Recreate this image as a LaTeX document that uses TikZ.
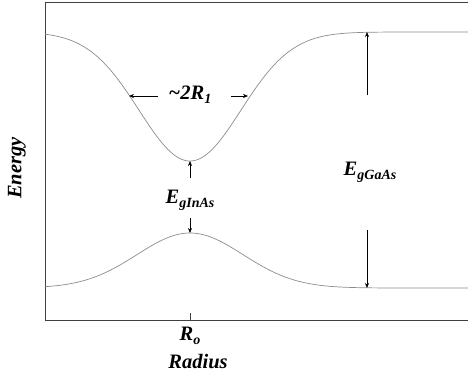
\documentclass[tikz,border=0pt]{standalone}
\usepackage{fontspec}
\setmainfont{Liberation Serif}
\usetikzlibrary{arrows.meta}
\newcommand{\bigt}{\fontsize{20.5}{24}\selectfont\bfseries\itshape}
\newcommand{\subt}[1]{\raisebox{-4pt}{\fontsize{14}{16}\selectfont\bfseries\itshape #1}}
\tikzset{
  curve/.style={draw=black!45, line width=0.7pt},
  frame/.style={draw=black!75, line width=1pt},
  dim/.style={draw=black, line width=0.6pt, -{Stealth[length=5pt,width=4pt]}},
  lab/.style={inner sep=1pt, font=\bigt},
}
\begin{document}
\begin{tikzpicture}[x=1pt,y=-1pt]
\useasboundingbox (0,0) rectangle (468,378);
% frame
\draw[frame] (468,2) -- (45,2) -- (45,320) -- (468,320);
% curves
\draw[curve] plot[domain=45:468,samples=200,smooth] (\x,{32+129*exp(-((\x-190)/72)^2)});
\draw[curve] plot[domain=45:468,samples=200,smooth] (\x,{288-55*exp(-((\x-190)/75)^2)});
% tick
\coordinate (t1) at (190,313);
\coordinate (t2) at (190,320);
\draw[frame, line width=0.6pt] (t1) -- (t2);
% coordinates for arrows
\coordinate (cmin) at (190,161);
\coordinate (vmax) at (190,233);
\coordinate (cl) at (129,96);
\coordinate (cr) at (248,96);
\coordinate (gtop) at (367,32);
\coordinate (gbot) at (367,288);
% labels
\node[lab] (w) at (190,95) {\textasciitilde 2R\subt{1}};
\node[lab] (ein) at (190,200) {E\subt{gInAs}};
\node[lab] (ega) at (370,172) {E\subt{gGaAs}};
\node[lab] (ro) at (190,336) {R\subt{o}};
\node[lab] (rad) at (198,362) {Radius};
\node[lab, rotate=90] (en) at (17,168) {Energy};
% arrows
\coordinate (wl) at (158,96);
\coordinate (wr) at (231,96);
\draw[dim] (wl) -- (cl);
\draw[dim] (wr) -- (cr);
\coordinate (ea) at (190,178);
\coordinate (eb) at (190,218);
\draw[dim] (ea) -- (cmin);
\draw[dim] (eb) -- (vmax);
\coordinate (ga) at (367,95);
\coordinate (gb) at (367,230);
\draw[dim] (ga) -- (gtop);
\draw[dim] (gb) -- (gbot);
\end{tikzpicture}
\end{document}
